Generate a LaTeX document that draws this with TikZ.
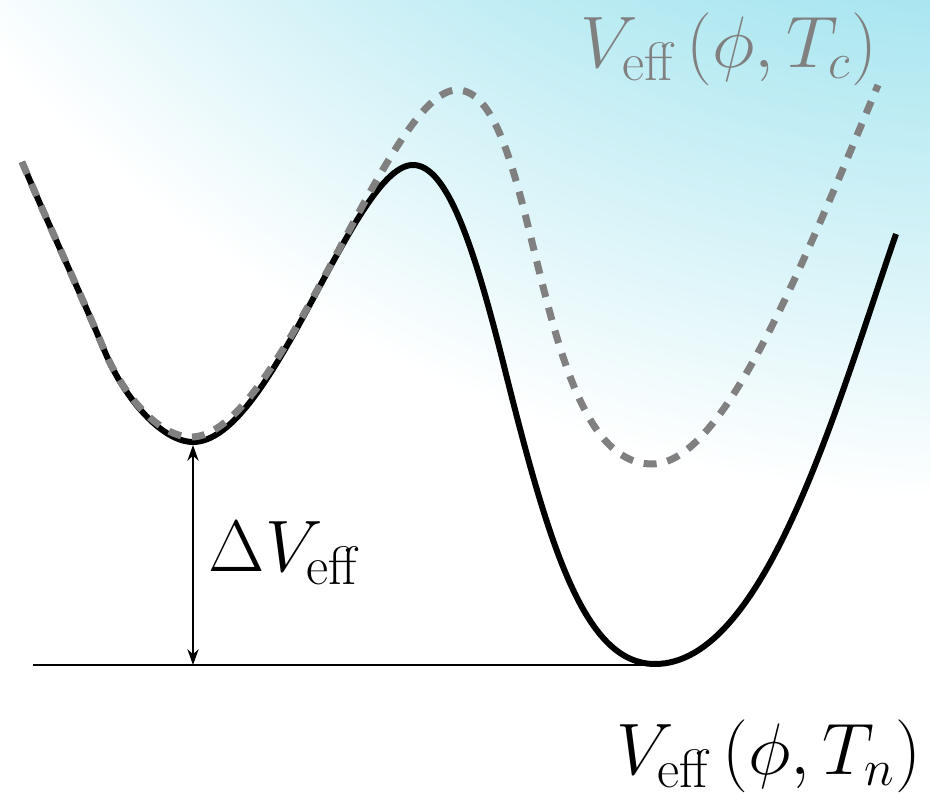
\documentclass[tikz,border=0pt]{standalone}
\usepackage{amsmath}
\usepackage{tikz}
\usetikzlibrary{arrows.meta,calc}
\usetikzlibrary{positioning}
\usepackage{xcolor}

\definecolor{glowcyan}{RGB}{170,230,240}
\pgfdeclareradialshading{bgglow}{\pgfpoint{0bp}{0bp}}{%
  color(0bp)=(glowcyan); color(15.6bp)=(glowcyan); color(25bp)=(white); color(50bp)=(white)}

\tikzset{
  biglabel/.style={inner sep=0pt, font=\fontsize{22}{27}\selectfont},
  potential/.style={line width=1.7pt},
  critical/.style={gray, line width=2pt, dash pattern=on 3.7pt off 3.1pt},
}

\begin{document}
\begin{tikzpicture}[x=0.01cm, y=-0.01cm, line join=round]
  \useasboundingbox (0,0) rectangle (930,798);

  % Background glow
  \begin{scope}
    \clip (0,0) rectangle (930,798);
    \shade[shading=bgglow] (991,-830) circle (1332);
  \end{scope}

  % Points
  \coordinate (falsemin) at (193,445);
  \coordinate (base) at (193,665);
  \coordinate (axisstart) at (33,665);
  \coordinate (truemin) at (655,665);

  % V_eff at T_n
  \draw[potential] (22,162) .. controls (50,228) and (80,292) .. (105,352)
    .. controls (125,400) and (163,442) .. (193,442)
    .. controls (273,442) and (353,165) .. (413,165)
    .. controls (448,165) and (475,250) .. (505,370)
    .. controls (550,550) and (585,664) .. (655,664)
    .. controls (765,664) and (836,408) .. (896,234);

  % V_eff at T_c
  \draw[critical] (22,162) .. controls (50,228) and (80,292) .. (105,352)
    .. controls (125,398) and (160,437) .. (191,437)
    .. controls (281,437) and (387,90) .. (457,90)
    .. controls (540,90) and (532,464) .. (652,464)
    .. controls (722,464) and (798,277) .. (878,85);

  % Depth of the false vacuum
  \draw[line width=0.45pt] (axisstart) -- (truemin);
  \draw[{Stealth[length=4.5pt,width=3.2pt]}-{Stealth[length=4.5pt,width=3.2pt]}, line width=0.45pt]
    (falsemin) -- (base);

  % Labels
  \node[biglabel, anchor=base west] (dvlabel) at (208,572) {$\Delta V_{\text{eff}}$};
  \node[biglabel, gray, anchor=base east] (tclabel) at (878,68) {$V_{\text{eff}}\,(\phi,T_c)$};
  \node[biglabel, anchor=base east] (tnlabel) at (922,775) {$V_{\text{eff}}\,(\phi,T_n)$};
\end{tikzpicture}
\end{document}
